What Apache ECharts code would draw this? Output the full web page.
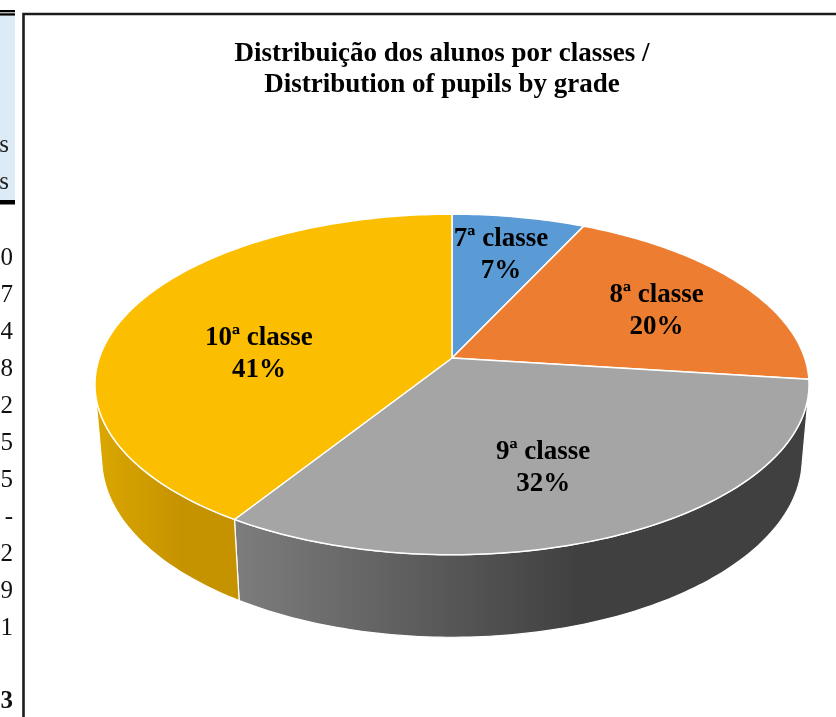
<!DOCTYPE html>
<html>
<head>
<meta charset="utf-8">
<script src="https://cdn.jsdelivr.net/npm/echarts@6/dist/echarts.min.js"></script>
<style>
    html, body { margin: 0; padding: 0; background: #fff; }
    #chart { width: 836px; height: 717px; }
</style>
</head>
<body>
<div id="chart"></div>
<script>
// dados do gráfico
const grades = ['7ª classe', '8ª classe', '9ª classe', '10ª classe'];
const shares = [7, 20, 32, 41];

// pedaço da tabela que aparece cortado à esquerda
const tableHeadTails = ['s', 's'];
const tableTails = ['0', '7', '4', '8', '2', '5', '5', '-', '2', '9', '1', '', '3'];

const topColors = ['#5B9BD5', '#ED7D31', '#A5A5A5', '#FBBE00'];
const sideColors = [
    ['#4a86bd', '#3f75a8'],
    ['#d46a22', '#b85a1c'],
    ['#7d7d7d', '#404040'],
    ['#DBA700', '#C69300']
];
const serif = '"Liberation Serif", "DejaVu Serif", serif';

// perspectiva para imitar a tarta 3D do Excel
const view = { cx: 452, cy: 358, f: 2055, kx: 0.98, d: 5.71, tilt: 27.5 * Math.PI / 180, h: 0.235 };

function project(theta, rho, y) {
    const x = rho * Math.sin(theta);
    const z = -rho * Math.cos(theta);
    const sa = Math.sin(view.tilt), ca = Math.cos(view.tilt);
    const depth = view.d - y * sa - z * ca;
    const up = y * ca - z * sa;
    return [view.cx + view.kx * view.f * x / depth, view.cy - view.f * up / depth];
}

function arc(a0, a1, y) {
    const pts = [];
    const n = Math.max(2, Math.ceil((a1 - a0) / (Math.PI / 180)));
    for (let k = 0; k <= n; k++) {
        pts.push(project(a0 + (a1 - a0) * k / n, 1, y));
    }
    return pts;
}

// centroide do polígono (para a etiqueta)
function centroid(pts) {
    let a = 0, cx = 0, cy = 0;
    for (let k = 0; k < pts.length; k++) {
        const p = pts[k], q = pts[(k + 1) % pts.length];
        const c = p[0] * q[1] - q[0] * p[1];
        a += c;
        cx += (p[0] + q[0]) * c;
        cy += (p[1] + q[1]) * c;
    }
    return [cx / (3 * a), cy / (3 * a)];
}

function renderSlice(params, api) {
    const i = params.dataIndex;
    const total = shares.reduce((s, v) => s + v, 0);
    let before = 0;
    for (let k = 0; k < i; k++) before += shares[k];
    const value = api.value(0);
    const a0 = before / total * 2 * Math.PI;
    const a1 = (before + value) / total * 2 * Math.PI;

    const children = [];

    // parede lateral visível (só a parte da frente)
    const lim = Math.acos(-1 / (view.d * Math.cos(view.tilt)));
    const s = Math.max(a0, lim);
    const e = Math.min(a1, 2 * Math.PI - lim);
    if (e > s) {
        const wall = arc(s, e, 0).concat(arc(s, e, -view.h).reverse());
        children.push({
            type: 'polygon',
            z2: 1,
            shape: { points: wall },
            style: {
                fill: new echarts.graphic.LinearGradient(0, 0, 1, 0, [
                    { offset: 0, color: sideColors[i][0] },
                    { offset: 0.6, color: sideColors[i][1] },
                    { offset: 1, color: sideColors[i][1] }
                ]),
                stroke: '#fff',
                lineWidth: 1.2
            }
        });
    }

    // face de cima
    const apex = project(0, 0, 0);
    const top = [apex].concat(arc(a0, a1, 0));
    children.push({
        type: 'polygon',
        z2: 10,
        shape: { points: top },
        style: { fill: topColors[i], stroke: '#fff', lineWidth: 1.5 }
    });

    // etiqueta um pouco para fora do centroide
    const c = centroid(top);
    children.push({
        type: 'text',
        z2: 20,
        x: apex[0] + (c[0] - apex[0]) * 1.1,
        y: apex[1] + (c[1] - apex[1]) * 1.1,
        style: {
            text: grades[i] + '\n' + Math.round(value / total * 100) + '%',
            fill: '#000',
            font: 'bold 27px ' + serif,
            lineHeight: 32,
            align: 'center',
            verticalAlign: 'middle'
        }
    });

    return { type: 'group', children: children };
}

// elementos da tabela e moldura
const graphics = [
    { type: 'rect', shape: { x: 0, y: 16, width: 15, height: 184 }, style: { fill: '#DDEBF7' } },
    { type: 'rect', shape: { x: 0, y: 10, width: 15, height: 2.3 }, style: { fill: '#000' } },
    { type: 'rect', shape: { x: 0, y: 13.3, width: 15, height: 2.3 }, style: { fill: '#000' } },
    { type: 'rect', shape: { x: 0, y: 200, width: 15, height: 4.5 }, style: { fill: '#000' } },
    {
        type: 'rect',
        shape: { x: 23.5, y: 14, width: 900, height: 800 },
        style: { fill: 'none', stroke: '#1c1c1c', lineWidth: 2.6 }
    }
];
tableHeadTails.forEach(function (t, k) {
    graphics.push({
        type: 'text', x: 9, y: 145 + k * 37,
        style: { text: t, font: '25px ' + serif, fill: '#222', align: 'right', verticalAlign: 'middle' }
    });
});
tableTails.forEach(function (t, k) {
    graphics.push({
        type: 'text', x: 13, y: 258 + k * 37,
        style: {
            text: t,
            font: (k === tableTails.length - 1 ? 'bold ' : '') + '25px ' + serif,
            fill: '#111', align: 'right', verticalAlign: 'middle'
        }
    });
});

const chart = echarts.init(document.getElementById('chart'));

const option = {
    backgroundColor: '#fff',
    animation: false,
    title: {
        text: 'Distribuição dos alunos por classes /\nDistribution of pupils by grade',
        left: 437,
        top: 34,
        textAlign: 'center',
        textStyle: {
            fontFamily: serif,
            fontWeight: 'bold',
            fontSize: 27,
            lineHeight: 31,
            color: '#000'
        }
    },
    graphic: graphics,
    series: [{
        type: 'custom',
        coordinateSystem: 'none',
        silent: true,
        renderItem: renderSlice,
        data: shares.map(function (v, k) {
            return { name: grades[k], value: [v] };
        })
    }]
};

chart.setOption(option);

window.addEventListener('resize', function () {
    chart.resize();
});
</script>
</body>
</html>
